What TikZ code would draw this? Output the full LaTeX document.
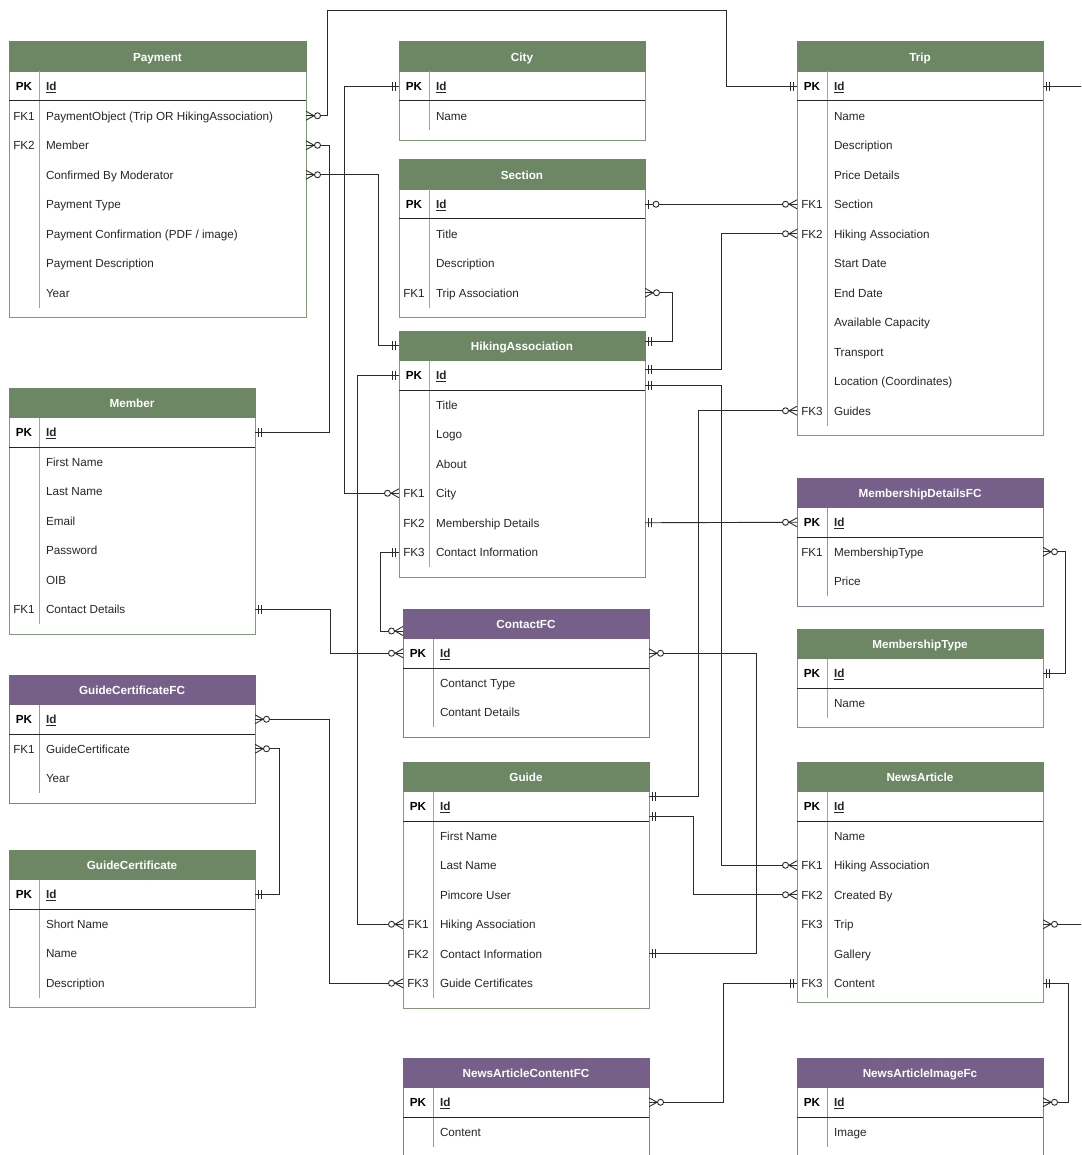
\documentclass[tikz,border=0pt]{standalone}
\usepackage{fontspec}
\setmainfont{Liberation Sans}
\usetikzlibrary{arrows.meta}

\definecolor{grn}{HTML}{6D8764}
\definecolor{pur}{HTML}{76608A}
\definecolor{wire}{HTML}{2B2B2B}

% ER line ends: mandatory one, zero or many, zero or one
\pgfdeclarearrow{
  name = erone,
  parameters = {},
  setup code = {
    \pgfarrowssettipend{0pt}
    \pgfarrowssetlineend{0pt}
    \pgfarrowssetbackend{-8pt}
    \pgfarrowssetvisualbackend{-8pt}
  },
  drawing code = {
    \pgfsetdash{}{0pt}
    \pgfpathmoveto{\pgfpoint{-3.5pt}{-4.5pt}}
    \pgfpathlineto{\pgfpoint{-3.5pt}{4.5pt}}
    \pgfpathmoveto{\pgfpoint{-6.5pt}{-4.5pt}}
    \pgfpathlineto{\pgfpoint{-6.5pt}{4.5pt}}
    \pgfusepathqstroke
  },
  defaults = {}
}
\pgfdeclarearrow{
  name = ermany,
  parameters = {},
  setup code = {
    \pgfarrowssettipend{0pt}
    \pgfarrowssetlineend{0pt}
    \pgfarrowssetbackend{-15pt}
    \pgfarrowssetvisualbackend{-15pt}
  },
  drawing code = {
    \pgfsetdash{}{0pt}
    \pgfpathmoveto{\pgfpoint{0pt}{4.5pt}}
    \pgfpathlineto{\pgfpoint{-8pt}{0pt}}
    \pgfpathlineto{\pgfpoint{0pt}{-4.5pt}}
    \pgfusepathqstroke
    \pgfpathcircle{\pgfpoint{-11.5pt}{0pt}}{3pt}
    \pgfsetfillcolor{white}
    \pgfusepathqfillstroke
  },
  defaults = {}
}
\pgfdeclarearrow{
  name = erzeroone,
  parameters = {},
  setup code = {
    \pgfarrowssettipend{0pt}
    \pgfarrowssetlineend{0pt}
    \pgfarrowssetbackend{-15pt}
    \pgfarrowssetvisualbackend{-15pt}
  },
  drawing code = {
    \pgfsetdash{}{0pt}
    \pgfpathmoveto{\pgfpoint{-3.5pt}{-4.5pt}}
    \pgfpathlineto{\pgfpoint{-3.5pt}{4.5pt}}
    \pgfusepathqstroke
    \pgfpathcircle{\pgfpoint{-11pt}{0pt}}{3pt}
    \pgfsetfillcolor{white}
    \pgfusepathqfillstroke
  },
  defaults = {}
}

\begin{document}
\begin{tikzpicture}[x=1pt, y=-1pt,
  every node/.style={font=\fontsize{11.7}{14}\selectfont, inner sep=0pt, outer sep=0pt, text height=10pt, text depth=1pt},
  tbl/.style={draw=#1!85, line width=1pt, text height=, text depth=},
  hdr/.style={fill=#1, draw=#1, text=white, font=\fontsize{11.7}{14}\selectfont\bfseries, minimum height=29.5pt, line width=1pt},
  sepline/.style={draw=black!85, line width=1pt},
  keyline/.style={draw=#1!70, line width=1pt},
  key/.style={text=black!85},
  pkey/.style={text=black, font=\fontsize{11.7}{14}\selectfont\bfseries},
  fld/.style={anchor=west, text=black!85},
  rel/.style={draw=wire, line width=0.9pt}]
	\clip (0,0) rectangle (1081,1155);
	% tables: frame, header, PK row
	\foreach \tn/\tx/\ty/\tw/\tr/\tc/\ttl/\tpad [evaluate=\tr as \tht using 59+\tpad+29.5*\tr] in {
	    pay/9/42/297/7/grn/Payment/10,
	    city/399/42/246/1/grn/City/10,
	    sec/399/160/246/3/grn/Section/10,
	    ha/399/331/246/6/grn/HikingAssociation/10,
	    cfc/403/609/246/2/pur/ContactFC/10,
	    gd/403/762/246/6/grn/Guide/10,
	    nacfc/403/1058/246/1/pur/NewsArticleContentFC/10,
	    trip/797/42/246/11/grn/Trip/10,
	    mdfc/797/478/246/2/pur/MembershipDetailsFC/10,
	    mt/797/629/246/1/grn/MembershipType/10,
	    na/797/762/246/6/grn/NewsArticle/4,
	    naifc/797/1058/246/1/pur/NewsArticleImageFc/10,
	    mem/9/388/246/6/grn/Member/10,
	    gcfc/9/675/246/2/pur/GuideCertificateFC/10,
	    gc/9/850/246/3/grn/GuideCertificate/10}{
	  \node[tbl=\tc, minimum width=\tw, minimum height=\tht, anchor=north west] (\tn) at (\tx,\ty) {};
	  \node[hdr=\tc, minimum width=\tw, anchor=north west] (\tn-h) at (\tx,\ty) {\ttl};
	  \draw[keyline=\tc] (\tx+30,\ty+29.5) -- ++(0,29.5+29.5*\tr);
	  \draw[sepline] (\tx,\ty+59) -- ++(\tw,0);
	  \node[pkey] (\tn-k0) at (\tx+15,\ty+44.25) {PK};
	  \node[fld, font=\fontsize{11.7}{14}\selectfont\bfseries] (\tn-0) at (\tx+37,\ty+44.25) {\underline{Id}};
	}
	% fields
	\foreach \fk/\fv [count=\i] in {FK1/PaymentObject (Trip OR HikingAssociation), FK2/Member, /Confirmed By Moderator, /Payment Type, /{Payment Confirmation (PDF / image)}, /Payment Description, /Year}
	  {\node[key] (pay-k\i) at (24,86.25+29.5*\i) {\fk}; \node[fld] (pay-\i) at (46,86.25+29.5*\i) {\fv};}
	\foreach \fk/\fv [count=\i] in {/Name}
	  {\node[key] (city-k\i) at (414,86.25+29.5*\i) {\fk}; \node[fld] (city-\i) at (436,86.25+29.5*\i) {\fv};}
	\foreach \fk/\fv [count=\i] in {/Title, /Description, FK1/Trip Association}
	  {\node[key] (sec-k\i) at (414,204.25+29.5*\i) {\fk}; \node[fld] (sec-\i) at (436,204.25+29.5*\i) {\fv};}
	\foreach \fk/\fv [count=\i] in {/Title, /Logo, /About, FK1/City, FK2/Membership Details, FK3/Contact Information}
	  {\node[key] (ha-k\i) at (414,375.25+29.5*\i) {\fk}; \node[fld] (ha-\i) at (436,375.25+29.5*\i) {\fv};}
	\foreach \fk/\fv [count=\i] in {/Contanct Type, /Contant Details}
	  {\node[key] (cfc-k\i) at (418,653.25+29.5*\i) {\fk}; \node[fld] (cfc-\i) at (440,653.25+29.5*\i) {\fv};}
	\foreach \fk/\fv [count=\i] in {/First Name, /Last Name, /Pimcore User, FK1/Hiking Association, FK2/Contact Information, FK3/Guide Certificates}
	  {\node[key] (gd-k\i) at (418,806.25+29.5*\i) {\fk}; \node[fld] (gd-\i) at (440,806.25+29.5*\i) {\fv};}
	\foreach \fk/\fv [count=\i] in {/Content}
	  {\node[key] (nacfc-k\i) at (418,1102.25+29.5*\i) {\fk}; \node[fld] (nacfc-\i) at (440,1102.25+29.5*\i) {\fv};}
	\foreach \fk/\fv [count=\i] in {/Name, /Description, /Price Details, FK1/Section, FK2/Hiking Association, /Start Date, /End Date, /Available Capacity, /Transport, /Location (Coordinates), FK3/Guides}
	  {\node[key] (trip-k\i) at (812,86.25+29.5*\i) {\fk}; \node[fld] (trip-\i) at (834,86.25+29.5*\i) {\fv};}
	\foreach \fk/\fv [count=\i] in {FK1/MembershipType, /Price}
	  {\node[key] (mdfc-k\i) at (812,522.25+29.5*\i) {\fk}; \node[fld] (mdfc-\i) at (834,522.25+29.5*\i) {\fv};}
	\foreach \fk/\fv [count=\i] in {/Name}
	  {\node[key] (mt-k\i) at (812,673.25+29.5*\i) {\fk}; \node[fld] (mt-\i) at (834,673.25+29.5*\i) {\fv};}
	\foreach \fk/\fv [count=\i] in {/Name, FK1/Hiking Association, FK2/Created By, FK3/Trip, /Gallery, FK3/Content}
	  {\node[key] (na-k\i) at (812,806.25+29.5*\i) {\fk}; \node[fld] (na-\i) at (834,806.25+29.5*\i) {\fv};}
	\foreach \fk/\fv [count=\i] in {/Image}
	  {\node[key] (naifc-k\i) at (812,1102.25+29.5*\i) {\fk}; \node[fld] (naifc-\i) at (834,1102.25+29.5*\i) {\fv};}
	\foreach \fk/\fv [count=\i] in {/First Name, /Last Name, /Email, /Password, /OIB, FK1/Contact Details}
	  {\node[key] (mem-k\i) at (24,432.25+29.5*\i) {\fk}; \node[fld] (mem-\i) at (46,432.25+29.5*\i) {\fv};}
	\foreach \fk/\fv [count=\i] in {FK1/GuideCertificate, /Year}
	  {\node[key] (gcfc-k\i) at (24,719.25+29.5*\i) {\fk}; \node[fld] (gcfc-\i) at (46,719.25+29.5*\i) {\fv};}
	\foreach \fk/\fv [count=\i] in {/Short Name, /Name, /Description}
	  {\node[key] (gc-k\i) at (24,894.25+29.5*\i) {\fk}; \node[fld] (gc-\i) at (46,894.25+29.5*\i) {\fv};}
	% relations
	\coordinate (tripout) at (1095,86.25);
	\coordinate (naout) at (1095,924.25);
	\draw[rel, arrows={ermany-erone}] (pay-1 -| pay.east) -| (327,10) -- (726,10) |- (trip-0 -| trip.west);
	\draw[rel, arrows={ermany-erone}] (pay-2 -| pay.east) -- ++(23,0) |- (mem-0 -| mem.east);
	\draw[rel, arrows={ermany-erone}] (pay-3 -| pay.east) -- ++(72,0) |- (ha-h.west);
	\draw[rel, arrows={erone-ermany}] (city-0 -| city.west) -- ++(-55,0) |- (ha-4 -| ha.west);
	\draw[rel, arrows={erzeroone-ermany}] (sec-0 -| sec.east) -- (trip-4 -| trip.west);
	\draw[rel, arrows={ermany-erone}] (sec-3 -| sec.east) -- ++(27,0) |- ([yshift=4pt]ha-h.east);
	\draw[rel, arrows={erone-ermany}] ([yshift=-38pt]ha.north east) -- ++(76,0) |- (trip-5 -| trip.west);
	\draw[rel, arrows={erone-ermany}] ([yshift=-54pt]ha.north east) -- ++(76,0) |- (na-2 -| na.west);
	\draw[rel, arrows={ermany-erone}] (trip-11 -| trip.west) -- ++(-99,0) |- ([yshift=-34pt]gd.north east);
	\draw[rel, arrows={erone-ermany}] ([yshift=-54pt]gd.north east) -- ++(44,0) |- (na-3 -| na.west);
	\draw[rel, arrows={erone-ermany}] (gd-5 -| gd.east) -- ++(107,0) |- (cfc-0 -| cfc.east);
	\draw[rel, arrows={erone-ermany}] (ha-5 -| ha.east) -- (mdfc-0 -| mdfc.west);
	\draw[rel, arrows={ermany-erone}] (mdfc-1 -| mdfc.east) -- ++(22,0) |- (mt-0 -| mt.east);
	\draw[rel, arrows={erone-ermany}] (mem-6 -| mem.east) -- ++(75,0) |- (cfc-0 -| cfc.west);
	\draw[rel, arrows={erone-ermany}] (ha-6 -| ha.west) -- ++(-19,0) |- ([yshift=-22pt]cfc.north west);
	\draw[rel, arrows={erone-ermany}] (ha-0 -| ha.west) -- ++(-42,0) |- (gd-4 -| gd.west);
	\draw[rel, arrows={ermany-ermany}] (gcfc-0 -| gcfc.east) -- ++(74,0) |- (gd-6 -| gd.west);
	\draw[rel, arrows={ermany-erone}] (gcfc-1 -| gcfc.east) -- ++(24,0) |- (gc-0 -| gc.east);
	\draw[rel, arrows={erone-}] (trip-0 -| trip.east) -- (tripout);
	\draw[rel, arrows={ermany-}] (na-4 -| na.east) -- (naout);
	\draw[rel, arrows={erone-ermany}] (na-6 -| na.west) -- ++(-74,0) |- (nacfc-0 -| nacfc.east);
	\draw[rel, arrows={erone-ermany}] (na-6 -| na.east) -- ++(25,0) |- (naifc-0 -| naifc.east);
\end{tikzpicture}
\end{document}
